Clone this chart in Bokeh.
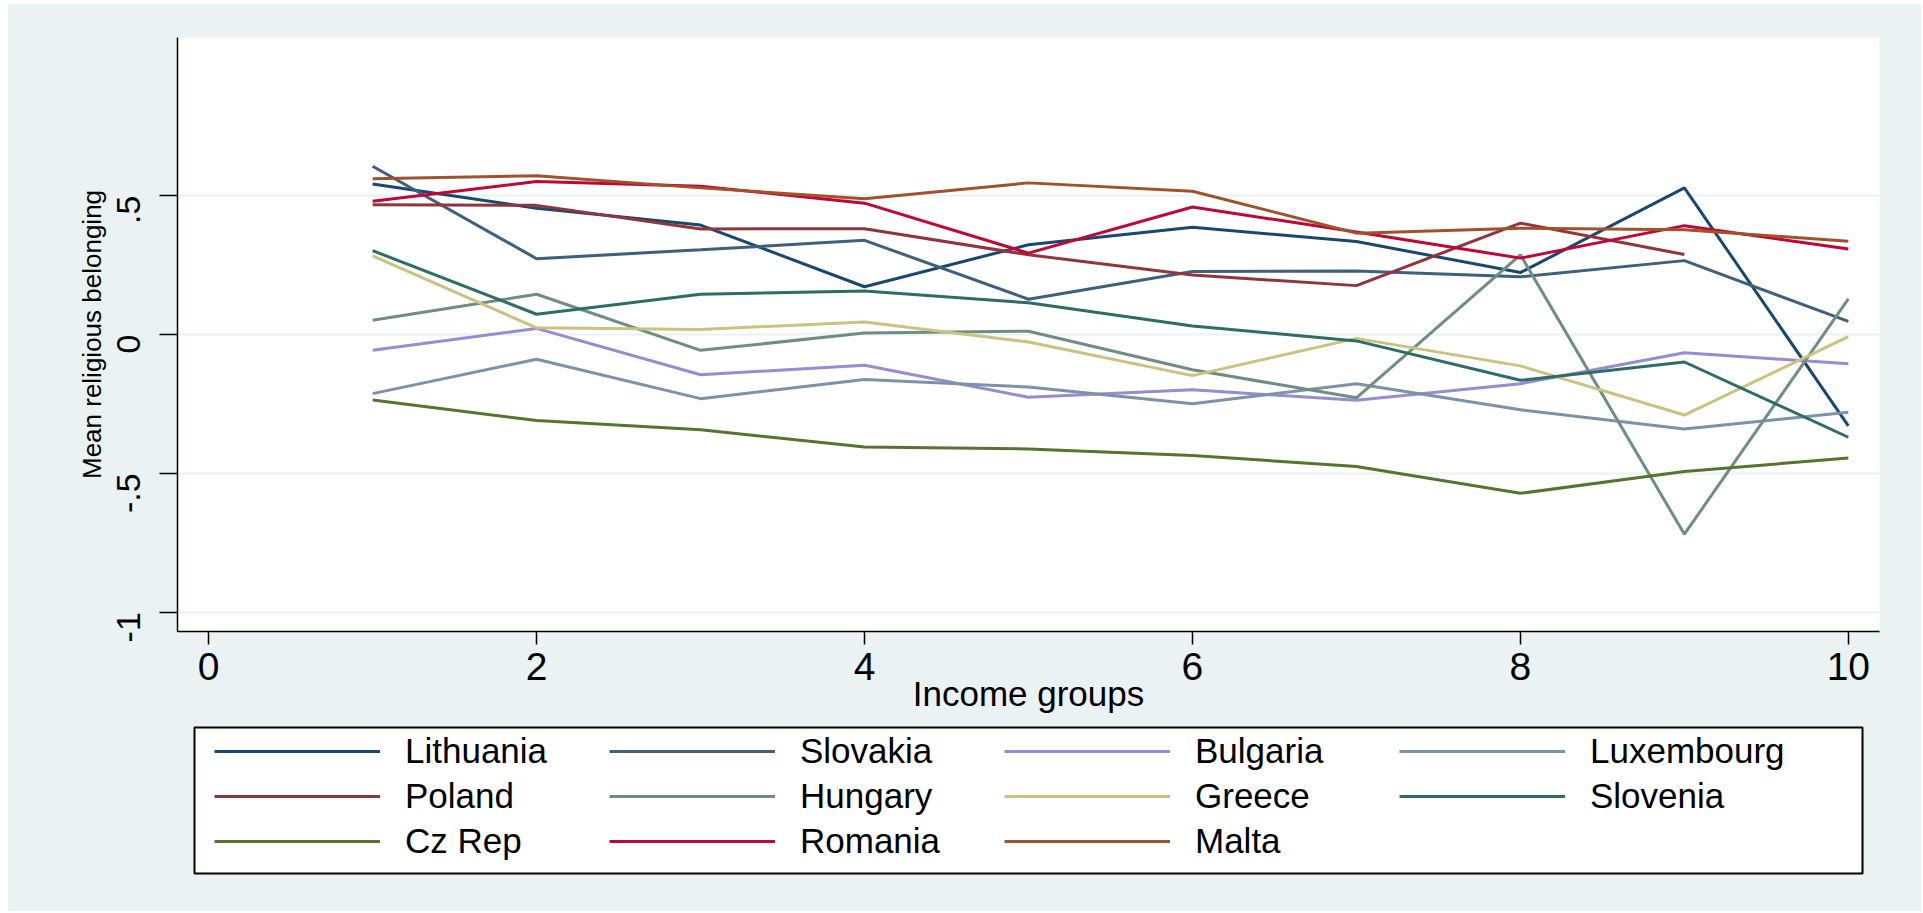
import math
from bokeh.plotting import figure
from bokeh.models import Range1d, FixedTicker, Legend, LegendItem
from bokeh.layouts import column
from bokeh.embed import file_html
from bokeh.resources import INLINE

# ---- data ----
income_groups = [1, 2, 3, 4, 5, 6, 7, 8, 9, 10]
nan = float("nan")

lithuania  = [0.542, 0.455, 0.394, 0.172, 0.323, 0.386, 0.335, 0.223, 0.528, -0.329]
slovakia   = [0.606, 0.273, 0.305, 0.339, 0.127, 0.227, 0.229, 0.208, 0.266, 0.047]
bulgaria   = [-0.057, 0.022, -0.145, -0.111, -0.226, -0.199, -0.237, -0.177, -0.066, -0.105]
luxembourg = [-0.213, -0.089, -0.231, -0.162, -0.189, -0.249, -0.177, -0.271, -0.340, -0.280]
poland     = [0.467, 0.465, 0.380, 0.381, 0.287, 0.214, 0.176, 0.401, 0.288, nan]
hungary    = [0.051, 0.145, -0.057, 0.005, 0.012, -0.127, -0.228, 0.287, -0.719, 0.128]
greece     = [0.283, 0.024, 0.018, 0.045, -0.027, -0.148, -0.014, -0.113, -0.290, -0.008]
slovenia   = [0.302, 0.073, 0.145, 0.157, 0.114, 0.031, -0.023, -0.165, -0.099, -0.370]
cz_rep     = [-0.236, -0.310, -0.343, -0.405, -0.412, -0.436, -0.475, -0.572, -0.493, -0.445]
romania    = [0.480, 0.551, 0.534, 0.473, 0.293, 0.459, 0.369, 0.275, 0.392, 0.308]
malta      = [0.561, 0.572, 0.528, 0.489, 0.546, 0.516, 0.365, 0.383, 0.377, 0.336]

country_names = ["Lithuania", "Slovakia", "Bulgaria", "Luxembourg",
                 "Poland", "Hungary", "Greece", "Slovenia",
                 "Cz Rep", "Romania", "Malta"]
country_values = [lithuania, slovakia, bulgaria, luxembourg,
                  poland, hungary, greece, slovenia,
                  cz_rep, romania, malta]
country_colors = ["#1A476F", "#3E5F7E", "#938DD2", "#7B92A8",
                  "#90353B", "#6E8E84", "#CAC27E", "#2D6D66",
                  "#55752F", "#C10534", "#A0522D"]

x_tick_values = [0, 2, 4, 6, 8, 10]
x_tick_labels = ["0", "2", "4", "6", "8", "10"]
y_tick_values = [-1.0, -0.5, 0.0, 0.5]
y_tick_labels = ["-1", "-.5", "0", ".5"]

x_title = "Income groups"
y_title = "Mean religious belonging"

# ---- style ----
BG = "#EAF2F3"
FONT = "Liberation Sans"
W = 1913
LW = 3.0

p = figure(width=W, height=722,
           x_range=Range1d(-0.19, 10.19), y_range=Range1d(-1.0695, 1.0695),
           output_backend="svg", toolbar_location=None,
           min_border_left=169, min_border_right=42,
           min_border_top=33, min_border_bottom=95)
p.frame_align = False
p.border_fill_color = BG
p.background_fill_color = "white"
p.outline_line_color = None

for name, vals, col in zip(country_names, country_values, country_colors):
    p.line(income_groups, vals, line_color=col, line_width=LW)

# x axis
xa = p.xaxis[0]
xa.ticker = FixedTicker(ticks=x_tick_values)
xa.major_label_overrides = {float(v): l for v, l in zip(x_tick_values, x_tick_labels)}
xa.minor_tick_line_color = None
xa.major_tick_in = 0
xa.major_tick_out = 13
xa.major_tick_line_width = 1.5
xa.major_tick_line_color = "black"
xa.axis_line_color = "black"
xa.axis_line_width = 1.5
xa.major_label_text_font = FONT
xa.major_label_text_font_size = "39px"
xa.major_label_text_color = "black"
xa.major_label_standoff = 8
xa.axis_label = x_title
xa.axis_label_text_font = FONT
xa.axis_label_text_font_size = "35px"
xa.axis_label_text_font_style = "normal"
xa.axis_label_text_color = "black"
xa.axis_label_standoff = -9

# y axis
ya = p.yaxis[0]
ya.ticker = FixedTicker(ticks=y_tick_values)
ya.major_label_overrides = {float(v): l for v, l in zip(y_tick_values, y_tick_labels)}
ya.minor_tick_line_color = None
ya.major_tick_in = 0
ya.major_tick_out = 18
ya.major_tick_line_width = 1.5
ya.major_tick_line_color = "black"
ya.axis_line_color = "black"
ya.axis_line_width = 1.5
ya.major_label_orientation = math.pi / 2
ya.major_label_text_font = FONT
ya.major_label_text_font_size = "34px"
ya.major_label_text_color = "black"
ya.major_label_standoff = 31
ya.axis_label = y_title
ya.axis_label_text_font = FONT
ya.axis_label_text_font_size = "26px"
ya.axis_label_text_font_style = "normal"
ya.axis_label_text_color = "black"
ya.axis_label_standoff = -4

p.xgrid.visible = False
p.ygrid.ticker = FixedTicker(ticks=y_tick_values)
p.ygrid.grid_line_color = BG
p.ygrid.grid_line_width = 2

# ---- legend panel (its frame is the legend box) ----
lg = figure(width=W, height=185, x_range=Range1d(100, 101), y_range=Range1d(0, 1),
            output_backend="svg", toolbar_location=None,
            min_border_left=186, min_border_right=59,
            min_border_top=1, min_border_bottom=38)
lg.frame_align = False
lg.border_fill_color = BG
lg.background_fill_color = "white"
lg.outline_line_color = "black"
lg.outline_line_width = 2
lg.axis.visible = False
lg.grid.visible = False

items = []
for name, vals, col in zip(country_names, country_values, country_colors):
    r = lg.line(income_groups, vals, line_color=col, line_width=LW)
    items.append(LegendItem(label=name, renderers=[r]))

legend = Legend(items=items, orientation="horizontal", ncols=4,
                location=(20, 12), margin=0, padding=8, spacing=5,
                glyph_width=166, glyph_height=40, label_height=40,
                label_width=199, label_standoff=25,
                label_text_font=FONT, label_text_font_size="35px",
                label_text_color="black",
                border_line_color=None, background_fill_alpha=0)
lg.add_layout(legend, "center")

layout = column(p, lg, spacing=0, margin=(4, 0, 0, 8))
layout.styles = {"background-color": BG}

open("out.html", "w").write(file_html(layout, INLINE))
